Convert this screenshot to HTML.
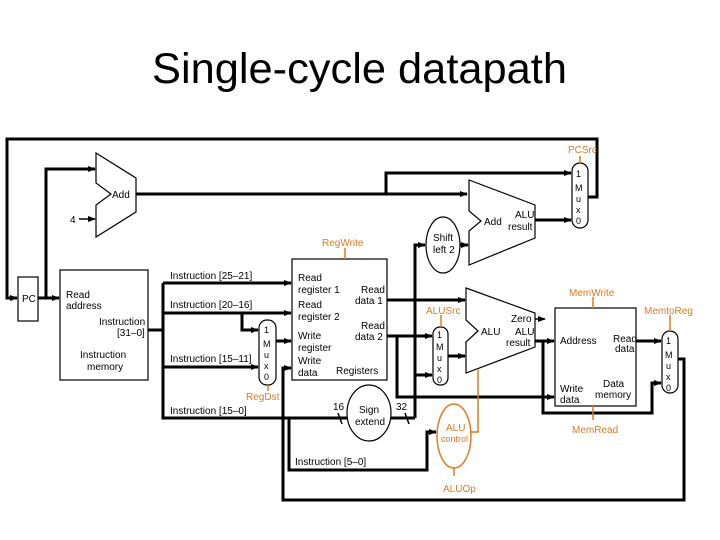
<!DOCTYPE html>
<html><head><style>
html,body{margin:0;padding:0;background:#fff;}
svg{display:block;}
text{font-family:"Liberation Sans",Arial,sans-serif;}
</style></head><body>
<svg width="720" height="540" viewBox="0 0 720 540" xmlns="http://www.w3.org/2000/svg">
<defs>
<marker id="a" markerWidth="8" markerHeight="8" refX="7" refY="4" orient="auto" markerUnits="userSpaceOnUse"><path d="M0,1 L8,4 L0,7 z" fill="#000"/></marker>
<marker id="o" markerWidth="8" markerHeight="8" refX="7" refY="4" orient="auto" markerUnits="userSpaceOnUse"><path d="M0,1 L8,4 L0,7 z" fill="#e07a20"/></marker>
</defs>
<text x="152" y="83" font-size="43" textLength="415" lengthAdjust="spacingAndGlyphs">Single-cycle datapath</text>

<g fill="none" stroke="#000" stroke-width="3">
<!-- top feedback -->
<polyline points="585,197 597,197 597,139 7,139 7,298 17,298" marker-end="url(#a)"/>
<line x1="38" y1="298" x2="59" y2="298" marker-end="url(#a)"/>
<polyline points="46,298 46,169 95,169" marker-end="url(#a)"/>
<!-- Add1 output -->
<line x1="136" y1="194" x2="467" y2="194" marker-end="url(#a)"/>
<polyline points="386,194 386,173 571,173" marker-end="url(#a)"/>
<line x1="535" y1="220" x2="571" y2="220" marker-end="url(#a)"/>
<!-- instruction bus -->
<line x1="148" y1="330" x2="163" y2="330"/>
<polyline points="163,283 163,418 289,418"/>
<line x1="163" y1="283" x2="291" y2="283" marker-end="url(#a)"/>
<line x1="163" y1="313" x2="291" y2="313" marker-end="url(#a)"/>
<polyline points="242,313 242,330 258,330" marker-end="url(#a)"/>
<line x1="163" y1="367" x2="258" y2="367" marker-end="url(#a)"/>
<line x1="276" y1="341" x2="291" y2="341" marker-end="url(#a)"/>
<line x1="289" y1="418" x2="347" y2="418"/>
<polyline points="289,418 289,470 427,470 427,432 436,432" marker-end="url(#a)"/>
<!-- write data feedback -->
<polyline points="678,359 684,359 684,500 283,500 283,368 291,368" marker-end="url(#a)"/>
<!-- sign extend out -->
<line x1="391" y1="418" x2="415" y2="418"/>
<polyline points="415,418 415,245 425,245" marker-end="url(#a)"/>
<line x1="415" y1="375" x2="432" y2="375" marker-end="url(#a)"/>
<line x1="460" y1="245" x2="468" y2="245" marker-end="url(#a)"/>
<!-- reg outputs -->
<line x1="387" y1="300" x2="465" y2="300" marker-end="url(#a)"/>
<line x1="387" y1="336" x2="432" y2="336" marker-end="url(#a)"/>
<polyline points="397,336 397,397 554,397" marker-end="url(#a)"/>
<line x1="448" y1="356" x2="465" y2="356" marker-end="url(#a)"/>
<!-- ALU outputs -->
<line x1="535" y1="341" x2="554" y2="341" marker-end="url(#a)"/>
<polyline points="543,341 543,413 652,413 652,383 661,383" marker-end="url(#a)"/>
<line x1="636" y1="341" x2="661" y2="341" marker-end="url(#a)"/>
</g>
<g fill="none" stroke="#000" stroke-width="1.5">
<line x1="79" y1="219" x2="95" y2="219" marker-end="url(#a)"/>
<line x1="535" y1="319" x2="545" y2="319" marker-end="url(#a)"/>
<line x1="338" y1="413" x2="342" y2="424"/>
<line x1="405" y1="413" x2="409" y2="424"/>
</g>
<!-- components -->
<g fill="#fff" stroke="#000" stroke-width="1.2">
<rect x="18" y="277" width="20" height="44"/>
<rect x="60" y="270" width="88" height="110"/>
<rect x="292" y="259" width="95" height="121"/>
<rect x="555" y="308" width="81" height="98"/>
<polygon points="96,153 136,178 136,212 96,237 96,205 111,194 96,183"/>
<polygon points="469,180 535,205 535,238 469,265 469,231 481,221 469,211"/>
<polygon points="466,288 535,313 535,347 466,373 466,342 478,331 466,320"/>
<rect x="572" y="163" width="16" height="65" rx="8"/>
<rect x="259" y="320" width="17" height="65" rx="8"/>
<rect x="433" y="327" width="15" height="58" rx="7"/>
<rect x="662" y="331" width="16" height="62" rx="8"/>
<ellipse cx="369" cy="413" rx="22" ry="28"/>
<ellipse cx="443" cy="245" rx="17" ry="28"/>
</g>
<ellipse cx="454" cy="436" rx="17" ry="32" fill="#fff" stroke="#e07a20" stroke-width="1.5"/>
<g fill="none" stroke="#e07a20" stroke-width="1.5">
<polyline points="478,370 478,432 471,432"/>
<line x1="454" y1="468" x2="454" y2="476"/>
<line x1="345" y1="248" x2="345" y2="259"/>
<line x1="580" y1="156" x2="580" y2="163"/>
<line x1="268" y1="385" x2="268" y2="391"/>
<line x1="441" y1="315" x2="441" y2="327"/>
<line x1="593" y1="297" x2="593" y2="308"/>
<line x1="593" y1="406" x2="593" y2="420"/>
<line x1="670" y1="315" x2="670" y2="331"/>
</g>
<g font-size="10" fill="#000">
<text x="22" y="302">PC</text>
<text x="112" y="198">Add</text>
<text x="70" y="223">4</text>
<text x="66" y="298">Read</text><text x="66" y="309">address</text>
<text x="99" y="325">Instruction</text><text x="117" y="336">[31–0]</text>
<text x="80" y="358">Instruction</text><text x="87" y="370">memory</text>
<text x="170" y="279">Instruction [25–21]</text>
<text x="170" y="308">Instruction [20–16]</text>
<text x="170" y="362">Instruction [15–11]</text>
<text x="170" y="414">Instruction [15–0]</text>
<text x="295" y="465">Instruction [5–0]</text>
<text x="298" y="281">Read</text><text x="298" y="293">register 1</text>
<text x="298" y="308">Read</text><text x="298" y="320">register 2</text>
<text x="298" y="339">Write</text><text x="298" y="351">register</text>
<text x="298" y="364">Write</text><text x="298" y="376">data</text>
<text x="361" y="293">Read</text><text x="355" y="304">data 1</text>
<text x="361" y="329">Read</text><text x="355" y="340">data 2</text>
<text x="336" y="374">Registers</text>
<text x="359" y="413">Sign</text><text x="355" y="425">extend</text>
<text x="333" y="410">16</text><text x="396" y="410">32</text>
<text x="433" y="241">Shift</text><text x="433" y="253">left 2</text>
<text x="484" y="225">Add</text>
<text x="515" y="218">ALU</text><text x="508" y="230">result</text>
<text x="481" y="335">ALU</text>
<text x="511" y="322">Zero</text>
<text x="515" y="335">ALU</text><text x="506" y="346">result</text>
<text x="560" y="344">Address</text>
<text x="613" y="342">Read</text><text x="615" y="352">data</text>
<text x="560" y="392">Write</text><text x="560" y="403">data</text>
<text x="603" y="387">Data</text><text x="595" y="398">memory</text>
<g font-size="9">
<text x="576" y="177">1</text><text x="575" y="191">M</text><text x="576" y="202">u</text><text x="576" y="213">x</text><text x="576" y="224">0</text>
<text x="264" y="333">1</text><text x="263" y="347">M</text><text x="264" y="358">u</text><text x="264" y="369">x</text><text x="264" y="380">0</text>
<text x="437" y="338">1</text><text x="436" y="350">M</text><text x="437" y="361">u</text><text x="437" y="372">x</text><text x="437" y="383">0</text>
<text x="666" y="344">1</text><text x="665" y="358">M</text><text x="666" y="369">u</text><text x="666" y="380">x</text><text x="666" y="391">0</text>
</g>
</g>
<g font-size="10" fill="#e07a20">
<text x="568" y="153">PCSrc</text>
<text x="322" y="246">RegWrite</text>
<text x="246" y="400">RegDst</text>
<text x="426" y="314">ALUSrc</text>
<text x="569" y="296">MemWrite</text>
<text x="644" y="314">MemtoReg</text>
<text x="572" y="433">MemRead</text>
<text x="443" y="492">ALUOp</text>
<text x="446" y="431">ALU</text><text x="441" y="442" font-size="9">control</text>
</g>
</svg>
</body></html>
